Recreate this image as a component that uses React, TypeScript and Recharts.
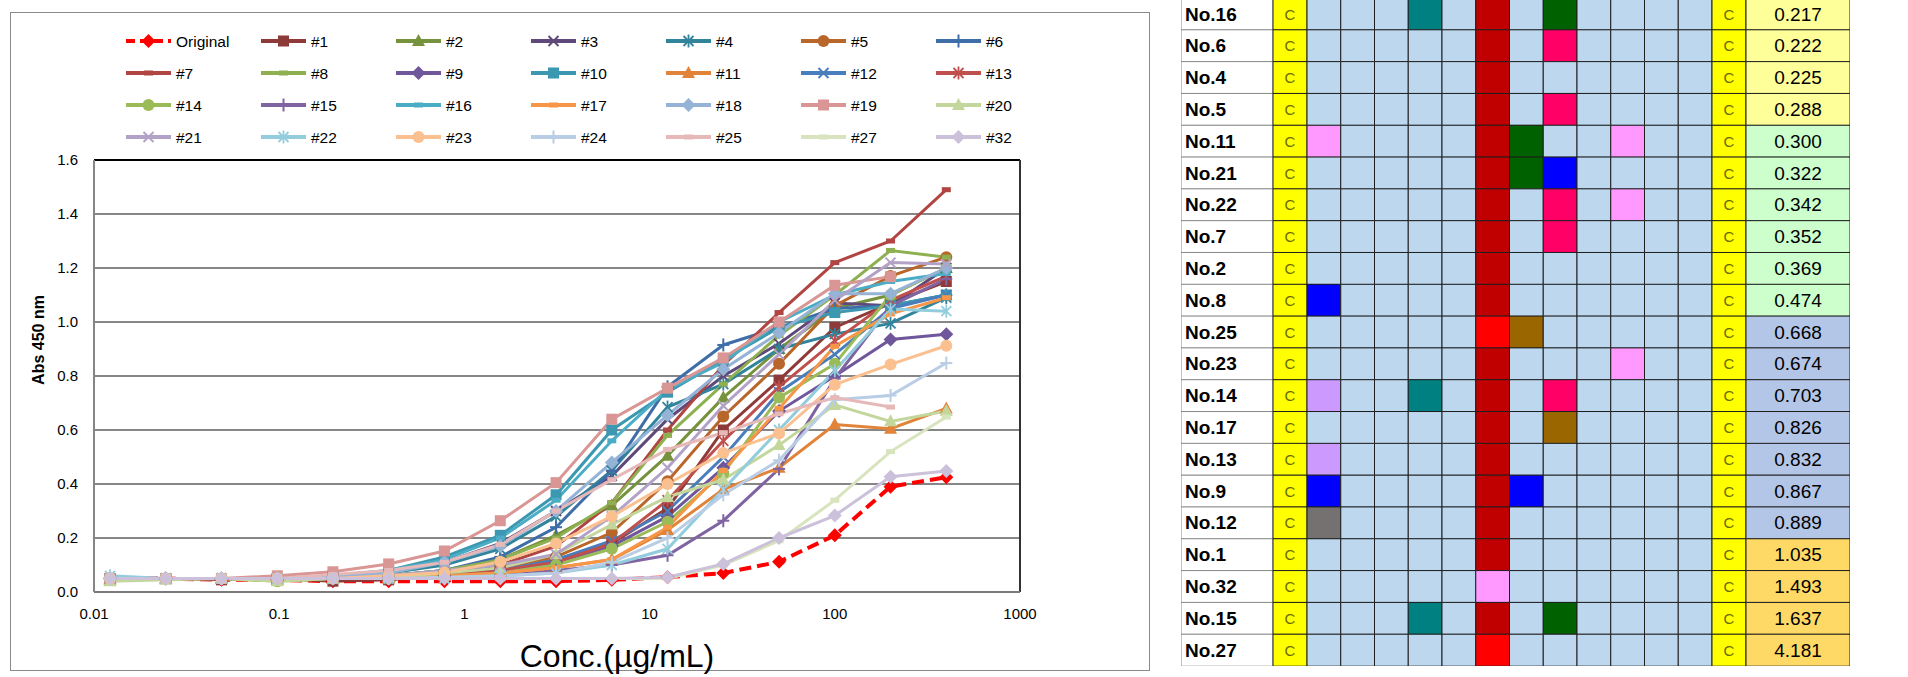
import React from 'react';
import {
  LineChart, Line, XAxis, YAxis, CartesianGrid, ReferenceLine, Legend, Label,
  BarChart, Bar, Cell, LabelList,
} from 'recharts';

// concentrations (µg/mL), two-fold dilution series
const concentrations = [0.0122, 0.0244, 0.0488, 0.0977, 0.195, 0.39, 0.78, 1.5625, 3.125, 6.25, 12.5, 25, 50, 100, 200, 400];

const seriesNames = [
  'Original', '#1', '#2', '#3', '#4', '#5', '#6',
  '#7', '#8', '#9', '#10', '#11', '#12', '#13',
  '#14', '#15', '#16', '#17', '#18', '#19', '#20',
  '#21', '#22', '#23', '#24', '#25', '#27', '#32',
];

// Abs 450 nm, one row per series (same order as seriesNames)
const absorbance: (number | null)[][] = [
  [0.05, 0.05, 0.045, 0.045, 0.04, 0.04, 0.04, 0.04, 0.04, 0.045, 0.055, 0.07, 0.112, 0.21, 0.39, 0.425],
  [0.05, 0.05, 0.045, 0.05, 0.04, 0.045, 0.06, 0.08, 0.12, 0.18, 0.31, 0.6, 0.785, 0.98, 1.07, 1.15],
  [0.045, 0.05, 0.05, 0.045, 0.05, 0.06, 0.08, 0.12, 0.21, 0.32, 0.505, 0.72, 0.9, 1.05, 1.1, 1.2],
  [0.05, 0.05, 0.05, 0.05, 0.055, 0.07, 0.11, 0.18, 0.3, 0.43, 0.64, 0.8, 0.92, 1.07, 1.06, 1.2],
  [0.05, 0.05, 0.05, 0.05, 0.055, 0.07, 0.1, 0.16, 0.28, 0.45, 0.685, 0.77, 0.9, 0.955, 0.995, 1.09],
  [0.05, 0.05, 0.05, 0.05, 0.05, 0.055, 0.07, 0.09, 0.13, 0.22, 0.41, 0.65, 0.845, 1.06, 1.17, 1.24],
  [0.05, 0.05, 0.05, 0.05, 0.05, 0.06, 0.08, 0.13, 0.24, 0.45, 0.76, 0.915, 0.98, 1.05, 1.06, 1.1],
  [0.05, 0.05, 0.05, 0.05, 0.055, 0.06, 0.07, 0.1, 0.17, 0.33, 0.6, 0.84, 1.035, 1.22, 1.3, 1.49],
  [0.05, 0.05, 0.05, 0.05, 0.05, 0.06, 0.08, 0.12, 0.2, 0.33, 0.58, 0.77, 0.95, 1.1, 1.265, 1.24],
  [0.05, 0.05, 0.05, 0.05, 0.05, 0.05, 0.06, 0.08, 0.11, 0.17, 0.28, 0.46, 0.67, 0.8, 0.935, 0.955],
  [0.05, 0.05, 0.05, 0.05, 0.06, 0.08, 0.13, 0.21, 0.36, 0.6, 0.74, 0.86, 0.98, 1.035, 1.06, 1.1],
  [0.05, 0.05, 0.05, 0.05, 0.05, 0.05, 0.06, 0.07, 0.09, 0.12, 0.23, 0.38, 0.46, 0.62, 0.605, 0.68],
  [0.05, 0.05, 0.05, 0.05, 0.05, 0.05, 0.06, 0.08, 0.12, 0.19, 0.3, 0.5, 0.74, 0.88, 1.05, 1.1],
  [0.05, 0.05, 0.05, 0.05, 0.05, 0.05, 0.06, 0.08, 0.11, 0.18, 0.34, 0.56, 0.76, 0.93, 1.08, 1.17],
  [0.05, 0.05, 0.05, 0.04, 0.05, 0.05, 0.06, 0.07, 0.1, 0.16, 0.26, 0.44, 0.72, 0.845, 1.1, 1.2],
  [0.05, 0.05, 0.05, 0.05, 0.05, 0.05, 0.055, 0.06, 0.08, 0.1, 0.136, 0.264, 0.456, 0.79, 1.06, 1.16],
  [0.05, 0.05, 0.05, 0.05, 0.06, 0.08, 0.12, 0.2, 0.34, 0.56, 0.75, 0.85, 1.0, 1.1, 1.15, 1.18],
  [0.05, 0.05, 0.05, 0.05, 0.05, 0.05, 0.06, 0.07, 0.09, 0.12, 0.24, 0.45, 0.68, 0.91, 1.03, 1.09],
  [0.05, 0.05, 0.05, 0.05, 0.055, 0.07, 0.11, 0.17, 0.3, 0.48, 0.655, 0.825, 0.96, 1.105, 1.105, 1.2],
  [0.05, 0.05, 0.05, 0.06, 0.075, 0.104, 0.152, 0.264, 0.405, 0.64, 0.755, 0.867, 1.0, 1.136, 1.168, null],
  [0.04, 0.045, 0.05, 0.04, 0.05, 0.055, 0.07, 0.09, 0.14, 0.25, 0.352, 0.416, 0.544, 0.693, 0.632, 0.67],
  [0.05, 0.05, 0.05, 0.05, 0.05, 0.06, 0.08, 0.1, 0.14, 0.28, 0.46, 0.69, 0.88, 1.08, 1.22, 1.215],
  [0.06, 0.05, 0.05, 0.05, 0.05, 0.05, 0.05, 0.06, 0.07, 0.1, 0.16, 0.38, 0.6, 0.82, 1.048, 1.04],
  [0.05, 0.05, 0.05, 0.05, 0.05, 0.06, 0.072, 0.112, 0.18, 0.28, 0.4, 0.515, 0.587, 0.768, 0.843, 0.912],
  [0.05, 0.05, 0.05, 0.05, 0.05, 0.05, 0.055, 0.06, 0.07, 0.11, 0.2, 0.36, 0.488, 0.712, 0.728, 0.848],
  [0.05, 0.05, 0.05, 0.05, 0.065, 0.08, 0.11, 0.176, 0.3, 0.416, 0.528, 0.59, 0.66, 0.72, 0.685, null],
  [0.05, 0.05, 0.05, 0.05, 0.05, 0.05, 0.05, 0.05, 0.05, 0.05, 0.05, 0.1, 0.19, 0.34, 0.52, 0.648],
  [0.05, 0.05, 0.05, 0.05, 0.05, 0.05, 0.05, 0.05, 0.05, 0.05, 0.055, 0.104, 0.2, 0.283, 0.427, 0.448],
];

const xTicks = [0.01, 0.1, 1, 10, 100, 1000];
const yTicks = [0, 0.2, 0.4, 0.6, 0.8, 1.0, 1.2, 1.4, 1.6];

// table on the right
const rowNames = [
  'No.16', 'No.6', 'No.4', 'No.5', 'No.11', 'No.21', 'No.22', 'No.7', 'No.2', 'No.8', 'No.25',
  'No.23', 'No.14', 'No.17', 'No.13', 'No.9', 'No.12', 'No.1', 'No.32', 'No.15', 'No.27',
];
const rowScores = [
  0.217, 0.222, 0.225, 0.288, 0.3, 0.322, 0.342, 0.352, 0.369, 0.474, 0.668,
  0.674, 0.703, 0.826, 0.832, 0.867, 0.889, 1.035, 1.493, 1.637, 4.181,
];
// 12 position cells per row, one letter per cell ('.' = empty)
const rowMarks = [
  '...T.R.G....', '.....R.P....', '.....R......', '.....R.P....', 'p....RG..p..',
  '.....RGB....', '.....R.P.p..', '.....R.P....', '.....R......', 'B....R......',
  '.....rb.....', '.....R...p..', 'L..T.R.P....', '.....R.b....', 'L....R......',
  'B....RB.....', 'g....R......', '.....R......', '.....p......', '...T.R.G....',
  '.....r......',
];

const seriesColors = [
  '#FF0000', '#8E3A38', '#76923C', '#5F497A', '#31849B', '#B9662A', '#3E6DA8',
  '#B04542', '#8EB050', '#70569A', '#3C97B0', '#E2833A', '#4A7DBB', '#C0504D',
  '#9BBB59', '#8064A2', '#4BACC6', '#F79646', '#95B3D7', '#D99694', '#C3D69B',
  '#B3A2C7', '#93CDDD', '#FAC090', '#B9CDE5', '#E6B9B8', '#D7E4BD', '#CCC1DA',
];
const markerCycle = ['diamond', 'square', 'triangle', 'x', 'star', 'circle', 'plus', 'dash', 'dash'];

const markColors: Record<string, string> = {
  '.': '#BDD7EE', R: '#C00000', r: '#FF0000', T: '#008080', G: '#006100', P: '#FF0066',
  p: '#FF99FF', B: '#0000FF', b: '#996600', L: '#CC99FF', g: '#767171',
};
const columnWidths = [92, 34, ...Array(12).fill(33.75), 34, 104];

const FONT = '"Liberation Sans", Arial, sans-serif';

const chartData = concentrations.map((c, j) => {
  const row: Record<string, number | null> = { conc: c };
  seriesNames.forEach((_, i) => { row['s' + i] = absorbance[i][j]; });
  return row;
});

const tableData = rowNames.map((name, r) => {
  const row: Record<string, string | number> = { name, score: rowScores[r] };
  columnWidths.forEach((w, c) => { row['w' + c] = w; });
  return row;
});

function Marker({ shape, cx, cy, color }: { shape: string; cx: number; cy: number; color: string }) {
  switch (shape) {
    case 'diamond': {
      const r = 7;
      return <polygon points={`${cx},${cy - r} ${cx + r},${cy} ${cx},${cy + r} ${cx - r},${cy}`} fill={color} />;
    }
    case 'square':
      return <rect x={cx - 5.5} y={cy - 5.5} width={11} height={11} fill={color} />;
    case 'triangle':
      return <polygon points={`${cx},${cy - 7} ${cx + 6.5},${cy + 5} ${cx - 6.5},${cy + 5}`} fill={color} />;
    case 'x':
      return (
        <g stroke={color} strokeWidth={2}>
          <line x1={cx - 5} y1={cy - 5} x2={cx + 5} y2={cy + 5} />
          <line x1={cx - 5} y1={cy + 5} x2={cx + 5} y2={cy - 5} />
        </g>
      );
    case 'star':
      return (
        <g stroke={color} strokeWidth={1.8}>
          <line x1={cx - 5} y1={cy - 5} x2={cx + 5} y2={cy + 5} />
          <line x1={cx - 5} y1={cy + 5} x2={cx + 5} y2={cy - 5} />
          <line x1={cx} y1={cy - 6.5} x2={cx} y2={cy + 6.5} />
        </g>
      );
    case 'circle':
      return <circle cx={cx} cy={cy} r={6} fill={color} />;
    case 'plus':
      return (
        <g stroke={color} strokeWidth={2}>
          <line x1={cx} y1={cy - 6.5} x2={cx} y2={cy + 6.5} />
          <line x1={cx - 6} y1={cy} x2={cx + 6} y2={cy} />
        </g>
      );
    default:
      return <rect x={cx - 4.5} y={cy - 2.5} width={9} height={5} fill={color} />;
  }
}

const makeDot = (i: number) => (props: any) => {
  const { cx, cy, index, value } = props;
  if (cx == null || cy == null || value == null) return <g key={index} />;
  return (
    <g key={index}>
      <Marker shape={markerCycle[i % 9]} cx={cx} cy={cy} color={seriesColors[i]} />
    </g>
  );
};

const renderLegend = () => (
  <svg width={1160} height={160} style={{ display: 'block' }}>
    {seriesNames.map((name, i) => {
      const x0 = 126 + 135 * (i % 7);
      const y = 41 + 32 * Math.floor(i / 7);
      return (
        <g key={name}>
          <line
            x1={x0} x2={x0 + 45} y1={y} y2={y}
            stroke={seriesColors[i]} strokeWidth={4}
            strokeDasharray={i === 0 ? '9 5' : undefined}
          />
          <Marker shape={markerCycle[i % 9]} cx={x0 + 22.5} cy={y} color={seriesColors[i]} />
          <text x={x0 + 50} y={y} dominantBaseline="central" fontSize={15.5} fontFamily={FONT} fill="#000">
            {name}
          </text>
        </g>
      );
    })}
  </svg>
);

const YTitle = (props: any) => {
  const vb = props.viewBox || { x: 0, y: 160, height: 432 };
  const x = vb.x + 38;
  const y = vb.y + vb.height / 2 - 36;
  return (
    <text x={x} y={y} transform={`rotate(-90 ${x} ${y})`} textAnchor="middle" dominantBaseline="central"
      fontSize={16} fontWeight="bold" fontFamily={FONT} fill="#000">
      Abs 450 nm
    </text>
  );
};

const XTitle = (props: any) => {
  const vb = props.viewBox || { x: 94, y: 592, width: 926 };
  return (
    <text x={vb.x + vb.width / 2 + 60} y={vb.y + 64} textAnchor="middle" dominantBaseline="central"
      fontSize={32} fontFamily={FONT} fill="#000">
      Conc.(µg/mL)
    </text>
  );
};

const scoreColor = (v: number) => (v < 0.3 ? '#FFFF99' : v < 0.5 ? '#CCFFCC' : v < 1 ? '#B4C6E7' : '#FFD966');

const cellFill = (r: number, c: number) => {
  if (c === 0) return '#FFFFFF';
  if (c === 1 || c === 14) return '#FFFF00';
  if (c === 15) return scoreColor(rowScores[r]);
  return markColors[rowMarks[r][c - 2]];
};

const RowLabel = (p: any) => (
  <text x={p.x + 4} y={p.y + p.height / 2} dominantBaseline="central" fontSize={19} fontWeight="bold"
    fontFamily={FONT} fill="#000">
    {p.value}
  </text>
);
const CLabel = (p: any) => (
  <text x={p.x + p.width / 2} y={p.y + p.height / 2} textAnchor="middle" dominantBaseline="central"
    fontSize={15} fontFamily={FONT} fill="#6B6B00">
    C
  </text>
);
const ScoreLabel = (p: any) => (
  <text x={p.x + p.width / 2} y={p.y + p.height / 2} textAnchor="middle" dominantBaseline="central"
    fontSize={19} fontFamily={FONT} fill="#000">
    {Number(p.value).toFixed(3)}
  </text>
);

const tableTotal = columnWidths.reduce((a, b) => a + b, 0);

export default function App() {
  return (
    <div style={{ position: 'absolute', left: 0, top: 0, width: 1908, height: 677, background: '#fff', overflow: 'hidden' }}>
      <div style={{ position: 'absolute', left: 10, top: 12, width: 1138, height: 657, border: '1.5px solid #8a8a8a' }} />
      <div style={{ position: 'absolute', left: 0, top: 0 }}>
        <LineChart width={1160} height={677} data={chartData} margin={{ top: 160, right: 140, bottom: 55, left: 0 }}>
          <CartesianGrid vertical={false} stroke="#868686" strokeWidth={2} />
          <XAxis
            dataKey="conc" type="number" scale="log" domain={[0.01, 1000]} ticks={xTicks} allowDataOverflow
            height={30} tickFormatter={(v: number) => String(v)} tickLine={false} tickSize={6} tickMargin={10}
            axisLine={{ stroke: '#7a7a7a', strokeWidth: 2 }}
            tick={{ fill: '#000', fontSize: 15, fontFamily: FONT }}
          >
            <Label content={XTitle} />
          </XAxis>
          <YAxis
            type="number" domain={[0, 1.6]} ticks={yTicks} width={94} tickFormatter={(v: number) => v.toFixed(1)}
            tickLine={false} tickSize={6} tickMargin={10}
            axisLine={{ stroke: '#868686', strokeWidth: 2 }}
            tick={{ fill: '#000', fontSize: 15, fontFamily: FONT }}
          >
            <Label content={YTitle} />
          </YAxis>
          <ReferenceLine y={1.6} stroke="#000" strokeWidth={2} />
          <ReferenceLine x={1000} stroke="#333" strokeWidth={2} />
          <Legend
            content={renderLegend} layout="vertical" align="center" verticalAlign="middle"
            wrapperStyle={{ left: 0, top: 0, width: 1160, height: 160 }}
          />
          {seriesNames.map((name, i) => (
            <Line
              key={name} dataKey={'s' + i} name={name} type="linear"
              stroke={seriesColors[i]} strokeWidth={i === 0 ? 4 : 3}
              strokeDasharray={i === 0 ? '12 6' : undefined}
              dot={makeDot(i)} activeDot={false} isAnimationActive={false} connectNulls={false}
            />
          ))}
        </LineChart>
      </div>
      <div style={{ position: 'absolute', left: 1181, top: -2.5 }}>
        <BarChart
          width={tableTotal} height={668} data={tableData} layout="vertical"
          margin={{ top: 0, right: 0, bottom: 0, left: 0 }} barCategoryGap={0} barGap={0}
        >
          <XAxis type="number" hide domain={[0, tableTotal]} />
          <YAxis type="category" dataKey="name" hide />
          {columnWidths.map((_, c) => (
            <Bar
              key={c} dataKey={'w' + c} stackId="t" isAnimationActive={false}
              stroke={c === 0 ? '#8a8a8a' : '#1e1e1e'} strokeWidth={1}
            >
              {rowNames.map((n, r) => <Cell key={n} fill={cellFill(r, c)} />)}
              {c === 0 && <LabelList dataKey="name" content={RowLabel} />}
              {(c === 1 || c === 14) && <LabelList dataKey="name" content={CLabel} />}
              {c === 15 && <LabelList dataKey="score" content={ScoreLabel} />}
            </Bar>
          ))}
        </BarChart>
      </div>
    </div>
  );
}
